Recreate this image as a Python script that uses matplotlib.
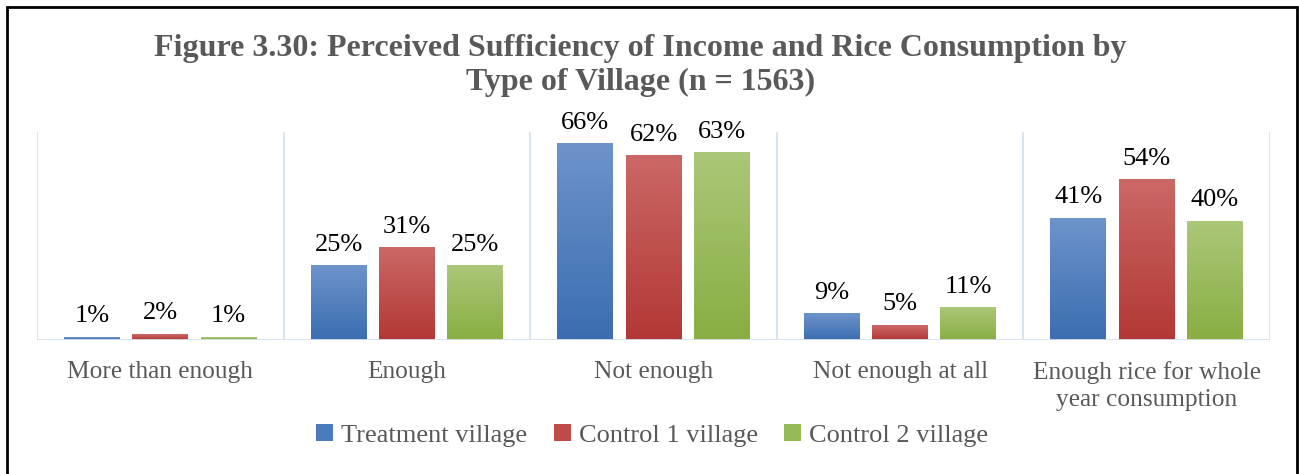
import matplotlib.pyplot as plt
from matplotlib.patches import Rectangle, Patch
from matplotlib.colors import LinearSegmentedColormap
import numpy as np

categories = ['More than enough', 'Enough', 'Not enough', 'Not enough at all',
              'Enough rice for whole\nyear consumption']
series = ['Treatment village', 'Control 1 village', 'Control 2 village']
treatment = [1, 25, 66, 9, 41]
control1 = [2, 31, 62, 5, 54]
control2 = [1, 25, 63, 11, 40]

# light top / dark bottom of each gradient
grads = [('#6d93cb', '#3b6eb0'), ('#cb6866', '#b23835'), ('#abc778', '#89ae42')]
legend_cols = ['#4a7bbd', '#bf4a48', '#97b957']

SERIF = ['Liberation Serif', 'DejaVu Serif']
GREY = '#595959'
GRID = '#d6e1f0'


def main():
    plt.rcParams['font.family'] = SERIF
    fig = plt.figure(figsize=(12.99, 4.74), dpi=100)
    ax = fig.add_axes([0.0285, 0.2827, 0.9492, 0.4388])

    x = np.arange(len(categories))
    w = 0.227
    step = 0.277
    vals = [treatment, control1, control2]
    for i, (name, v) in enumerate(zip(series, vals)):
        bars = ax.bar(x + (i - 1) * step, v, w, color=grads[i][1], label=name, zorder=2)
        cmap = LinearSegmentedColormap.from_list('g%d' % i, [grads[i][1], grads[i][0]])
        for b, val in zip(bars, v):
            x0, y0 = b.get_x(), b.get_y()
            bw, bh = b.get_width(), b.get_height()
            ax.imshow(np.linspace(0, 1, 100).reshape(-1, 1), cmap=cmap, origin='lower',
                      extent=[x0, x0 + bw, y0, y0 + bh], aspect='auto', zorder=3)
            ax.annotate('%d%%' % val, (x0 + bw / 2, y0 + bh), xytext=(0, 7),
                        textcoords='offset points', ha='center', va='bottom',
                        fontsize=19, color='black')

    ax.set_xlim(-0.5, len(categories) - 0.5)
    ax.set_ylim(0, 70)
    for s in ax.spines.values():
        s.set_visible(False)
    for b in np.arange(len(categories) + 1) - 0.5:
        ax.axvline(b, color=GRID, lw=1.3, zorder=1)
    ax.axhline(0, color=GRID, lw=2, zorder=4)
    ax.set_yticks([])
    ax.set_xticks(x)
    ax.set_xticklabels(categories, fontsize=18.3, color=GREY, linespacing=1.3)
    ax.tick_params(axis='x', length=0, pad=15)

    fig.text(0.493, 0.862, 'Figure 3.30: Perceived Sufficiency of Income and Rice Consumption by\nType of Village (n = 1563)',
             ha='center', va='center', fontsize=23, fontweight='bold', color=GREY,
             linespacing=1.2)

    handles = [Patch(facecolor=c) for c in legend_cols]
    fig.legend(handles, series, loc='center', bbox_to_anchor=(0.502, 0.082), ncol=3,
               frameon=False, fontsize=19, labelcolor=GREY, handlelength=0.65,
               handleheight=0.65, handletextpad=0.3, columnspacing=1.0)

    fig.patches.append(Rectangle((7 / 1299, -0.05), 1290 / 1299, 1.05 - 7 / 474,
                                 transform=fig.transFigure, fill=False,
                                 edgecolor='black', lw=2))

    fig.savefig('out.png', dpi=100)


if __name__ == '__main__':
    main()
